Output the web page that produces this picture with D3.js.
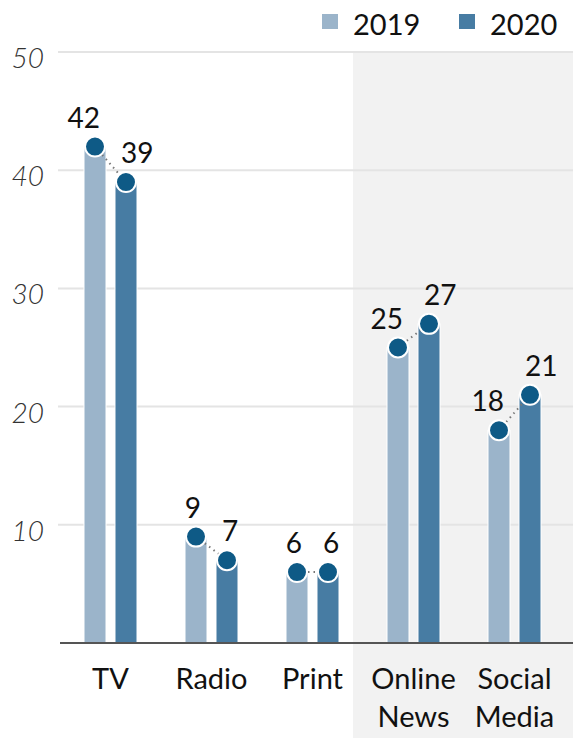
<!DOCTYPE html>
<html>
<head>
<meta charset="utf-8">
<script src="https://cdn.jsdelivr.net/npm/d3@7"></script>
<style>
  body { margin: 0; background: #fff; }
  svg text { font-family: "Source Sans Pro", Lato, "Open Sans", sans-serif; }
  .tick-label { font-style: italic; font-weight: 300; fill: #333; font-size: 28px; }
  .cat-label { fill: #111; font-size: 29px; }
  .val-label { fill: #111; font-size: 28px; }
  .legend-label { fill: #111; font-size: 29px; }
</style>
</head>
<body>
<svg id="chart"></svg>
<script>
'use strict'

const categories = ['TV', 'Radio', 'Print', 'Online News', 'Social Media']
const years = ['2019', '2020']
const values2019 = [42, 9, 6, 25, 18]
const values2020 = [39, 7, 6, 27, 21]
const yTicks = [10, 20, 30, 40, 50]
const highlighted = ['Online News', 'Social Media']

const colors = { '2019': '#9bb4ca', '2020': '#477ca3' }
const dotColor = '#0e5a86'

const width = 573, height = 738
const svg = d3.select('#chart').attr('width', width).attr('height', height)

const x = d3.scaleBand().domain(categories).range([60, 565])
const x1 = d3.scaleBand().domain(years).range([24, 77]).paddingInner(0.29)
const y = d3.scaleLinear().domain([0, 50]).range([643, 52])

const rows = categories.map((c, i) => ({ cat: c, '2019': values2019[i], '2020': values2020[i] }))

// shaded background behind the online categories
svg.append('rect')
    .attr('x', x(highlighted[0]) - 10)
    .attr('y', y(50) - 1)
    .attr('width', width - x(highlighted[0]) + 10)
    .attr('height', height - y(50) + 1)
    .attr('fill', '#f2f2f2')

// gridlines
svg.append('g')
    .selectAll('line')
    .data(yTicks)
    .enter().append('line')
    .attr('x1', 58)
    .attr('x2', width)
    .attr('y1', d => y(d))
    .attr('y2', d => y(d))
    .attr('stroke', '#e4e4e4')
    .attr('stroke-width', 2)

svg.append('g')
    .selectAll('text')
    .data(yTicks)
    .enter().append('text')
    .classed('tick-label', true)
    .attr('x', 44)
    .attr('y', d => y(d) + 16)
    .attr('text-anchor', 'end')
    .text(d => d)

// bars
const groups = svg.append('g')
    .selectAll('g')
    .data(rows)
    .enter().append('g')
    .attr('transform', d => 'translate(' + x(d.cat) + ',0)')

groups.selectAll('rect')
    .data(d => years.map(k => ({ key: k, value: d[k] })))
    .enter().append('rect')
    .attr('x', d => x1(d.key))
    .attr('y', d => y(d.value))
    .attr('width', x1.bandwidth())
    .attr('height', d => y(0) - y(d.value))
    .attr('fill', d => colors[d.key])
    .attr('stroke', '#fff')
    .attr('stroke-width', 1)

// baseline
svg.append('line')
    .attr('x1', 60)
    .attr('x2', width)
    .attr('y1', y(0))
    .attr('y2', y(0))
    .attr('stroke', '#555')
    .attr('stroke-width', 2)

// dotted connector
groups.append('line')
    .attr('x1', x1('2019') + x1.bandwidth() / 2)
    .attr('x2', x1('2020') + x1.bandwidth() / 2)
    .attr('y1', d => y(d['2019']))
    .attr('y2', d => y(d['2020']))
    .attr('stroke', '#777')
    .attr('stroke-width', 2)
    .attr('stroke-dasharray', '1.5,4')

groups.selectAll('circle')
    .data(d => years.map(k => ({ key: k, value: d[k] })))
    .enter().append('circle')
    .attr('cx', d => x1(d.key) + x1.bandwidth() / 2)
    .attr('cy', d => y(d.value))
    .attr('r', 10)
    .attr('fill', dotColor)
    .attr('stroke', '#fff')
    .attr('stroke-width', 2)

groups.selectAll('.val-label')
    .data(d => years.map(k => ({ key: k, value: d[k] })))
    .enter().append('text')
    .classed('val-label', true)
    .attr('x', d => x1(d.key) + x1.bandwidth() / 2 + (d.key === '2019' ? 5 : -5))
    .attr('y', d => y(d.value) - 19)
    .attr('text-anchor', d => d.key === '2019' ? 'end' : 'start')
    .text(d => d.value)

// category labels, two lines where needed
const catText = svg.append('g')
    .selectAll('text')
    .data(categories)
    .enter().append('text')
    .classed('cat-label', true)
    .attr('text-anchor', 'middle')
    .attr('x', d => x(d) + x.bandwidth() / 2)
    .attr('y', 689)
catText.selectAll('tspan')
    .data(d => d.split(' '))
    .enter().append('tspan')
    .attr('x', function () { return d3.select(this.parentNode).attr('x') })
    .attr('dy', (d, i) => i === 0 ? 0 : 38)
    .text(d => d)

// legend
const legendX = [322, 459]
const legend = svg.append('g')
    .selectAll('g')
    .data(years)
    .enter().append('g')
    .attr('transform', (d, i) => 'translate(' + legendX[i] + ',0)')
legend.append('rect')
    .attr('x', 0)
    .attr('y', 14)
    .attr('width', 16)
    .attr('height', 15)
    .attr('fill', d => colors[d])
legend.append('text')
    .classed('legend-label', true)
    .attr('x', 31)
    .attr('y', 35)
    .text(d => d)
</script>
</body>
</html>
